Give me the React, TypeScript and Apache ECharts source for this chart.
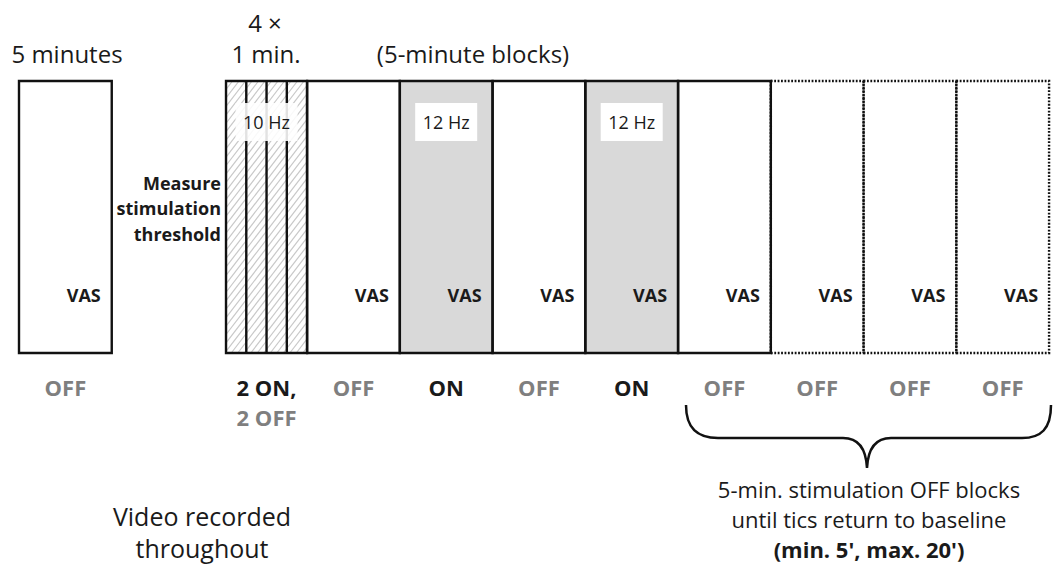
import React, { useEffect, useRef } from "react";
import * as echarts from "echarts";

// Timeline groups, in drawing minutes along the x axis
const groupNames = ["Baseline", "Threshold", "Block 1", "Block 2", "Block 3", "Block 4", "Block 5", "Block 6", "Block 7", "Block 8"];
const groupStart = [0, 11.16, 15.53, 20.53, 25.53, 30.53, 35.53, 40.53, 45.53, 50.53];
const groupEnd = [5, 15.53, 20.53, 25.53, 30.53, 35.53, 40.53, 45.53, 50.53, 55.53];
const groupKind = ["off", "pulse", "off", "on", "off", "on", "off", "optional", "optional", "optional"];
const groupSubBlocks = [1, 4, 1, 1, 1, 1, 1, 1, 1, 1];
const groupFreq = ["", "10 Hz", "", "12 Hz", "", "12 Hz", "", "", "", ""];
const groupVAS = ["VAS", "", "VAS", "VAS", "VAS", "VAS", "VAS", "VAS", "VAS", "VAS"];
const groupState = ["OFF", "2 ON,|2 OFF", "OFF", "ON", "OFF", "ON", "OFF", "OFF", "OFF", "OFF"];

const topLabels = ["5 minutes", "4 ×", "1 min.", "(5-minute blocks)"];
const thresholdLabel = ["Measure", "stimulation", "threshold"];
const braceLines = ["5-min. stimulation OFF blocks", "until tics return to baseline", "(min. 5', max. 20')"];
const videoLines = ["Video recorded", "throughout"];

const FONT = "'Open Sans', 'Noto Sans', sans-serif";
const TEXT = "#1a1a1a";
const GRAY = "#7f7f7f";

const braceD =
  "M686,405 C686,429 698,438 718,438 L843,438 C858,438 866,448 867,468 C868,448 876,438 891,438 L1022,438 C1041,438 1051,429 1051,405";

export default function App() {
  const ref = useRef<HTMLDivElement>(null);

  useEffect(() => {
    if (!ref.current) return;
    echarts.graphic.registerShape("brace", echarts.graphic.extendPath(braceD, {}) as any);
    const chart = echarts.init(ref.current, undefined, { renderer: "svg" });

    const data = groupStart.map((s, i) => [s, groupEnd[i], 0, 1, i]);

    const fillRender = (params: any, api: any) => {
      const i = api.value(4);
      const p0 = api.coord([api.value(0), api.value(3)]);
      const p1 = api.coord([api.value(1), api.value(2)]);
      const x0 = p0[0], y0 = p0[1], x1 = p1[0], y1 = p1[1];
      const kind = groupKind[i];
      const children: any[] = [
        {
          type: "rect",
          shape: { x: x0, y: y0, width: x1 - x0, height: y1 - y0 },
          style: { fill: kind === "on" ? "#d9d9d9" : "#ffffff" },
        },
      ];
      if (kind === "pulse") {
        const H = y1 - y0;
        const k = 1.3;
        const s = 6.5;
        for (let c = x0 - H / k; c < x1; c += s) {
          const xa = Math.max(c, x0);
          const xb = Math.min(c + H / k, x1);
          if (xb <= xa) continue;
          children.push({
            type: "line",
            shape: { x1: xa, y1: y1 - (xa - c) * k, x2: xb, y2: y1 - (xb - c) * k },
            style: { stroke: "#c8c8c8", lineWidth: 1.2 },
          });
        }
      }
      return { type: "group", children };
    };

    const outlineRender = (params: any, api: any) => {
      const i = api.value(4);
      const p0 = api.coord([api.value(0), api.value(3)]);
      const p1 = api.coord([api.value(1), api.value(2)]);
      const x0 = p0[0], y0 = p0[1], x1 = p1[0], y1 = p1[1];
      const cx = (x0 + x1) / 2;
      const kind = groupKind[i];
      const children: any[] = [];
      children.push({
        type: "rect",
        shape: { x: x0, y: y0, width: x1 - x0, height: y1 - y0 },
        style: {
          fill: "none",
          stroke: "#111",
          lineWidth: 2.4,
          lineDash: kind === "optional" ? [1.8, 1.6] : null,
        },
      });
      const n = groupSubBlocks[i];
      for (let k = 1; k < n; k++) {
        const xx = x0 + ((x1 - x0) * k) / n;
        children.push({
          type: "line",
          shape: { x1: xx, y1: y0, x2: xx, y2: y1 },
          style: { stroke: "#111", lineWidth: 2.4 },
        });
      }
      if (groupFreq[i]) {
        children.push({
          type: "rect",
          shape: { x: cx - 31, y: y0 + 22, width: 62, height: 38 },
          style: { fill: "#ffffff", opacity: kind === "pulse" ? 0.88 : 1 },
        });
        children.push({
          type: "text",
          x: cx,
          y: y0 + 41,
          style: {
            text: groupFreq[i],
            fill: TEXT,
            fontFamily: FONT,
            fontSize: 18,
            align: "center",
            verticalAlign: "middle",
          },
        });
      }
      if (groupVAS[i]) {
        children.push({
          type: "text",
          x: x1 - 11,
          y: y1 - 58,
          style: {
            text: groupVAS[i],
            fill: TEXT,
            fontFamily: FONT,
            fontSize: 18,
            fontWeight: "bold",
            align: "right",
            verticalAlign: "middle",
          },
        });
      }
      const lines = groupState[i].split("|");
      children.push({
        type: "text",
        x: cx,
        y: y1 + 19,
        style: {
          text: lines.map((l) => (l.indexOf("OFF") >= 0 ? `{off|${l}}` : `{on|${l}}`)).join("\n"),
          fontFamily: FONT,
          fontSize: 22,
          fontWeight: "bold",
          align: "center",
          verticalAlign: "top",
          lineHeight: 30,
          rich: {
            on: { fill: TEXT, fontFamily: FONT, fontSize: 22, fontWeight: "bold", lineHeight: 30 },
            off: { fill: GRAY, fontFamily: FONT, fontSize: 22, fontWeight: "bold", lineHeight: 30 },
          },
        },
      });
      return { type: "group", children };
    };

    const txt = (x: number, y: number, text: string, extra: any = {}) => ({
      type: "text",
      x,
      y,
      style: {
        text,
        fill: TEXT,
        fontFamily: FONT,
        fontSize: 24,
        align: "center",
        verticalAlign: "middle",
        ...extra,
      },
    });

    chart.setOption({
      animation: false,
      backgroundColor: "#ffffff",
      grid: { left: 19, right: 5, top: 81, bottom: 212 },
      xAxis: { type: "value", min: 0, max: 55.58, show: false },
      yAxis: { type: "value", min: 0, max: 1, show: false },
      series: [
        {
          type: "custom",
          name: "fill",
          renderItem: fillRender,
          encode: { x: [0, 1], y: [2, 3] },
          data,
          silent: true,
        },
        {
          type: "custom",
          name: "outline",
          renderItem: outlineRender,
          encode: { x: [0, 1], y: [2, 3] },
          data,
          silent: true,
        },
      ],
      graphic: [
        txt(67, 53, topLabels[0]),
        txt(265, 22, topLabels[1]),
        txt(266, 53, topLabels[2]),
        txt(473, 53, topLabels[3]),
        txt(221, 208, thresholdLabel.join("\n"), {
          align: "right",
          fontSize: 18,
          fontWeight: "bold",
          lineHeight: 25.5,
        }),
        {
          type: "brace",
          x: 0,
          y: 0,
          shape: {},
          style: { stroke: "#111", lineWidth: 2.5, fill: "none" },
        },
        txt(869, 489, braceLines[0], { fontSize: 22 }),
        txt(869, 519, braceLines[1], { fontSize: 22 }),
        txt(869, 549, braceLines[2], { fontSize: 22, fontWeight: "bold" }),
        txt(202, 532, videoLines.join("\n"), { fontSize: 25, lineHeight: 32 }),
      ],
    });

    return () => chart.dispose();
  }, []);

  return (
    <div
      ref={ref}
      style={{ position: "fixed", left: 0, top: 0, width: 1055, height: 565, background: "#fff" }}
    />
  );
}
